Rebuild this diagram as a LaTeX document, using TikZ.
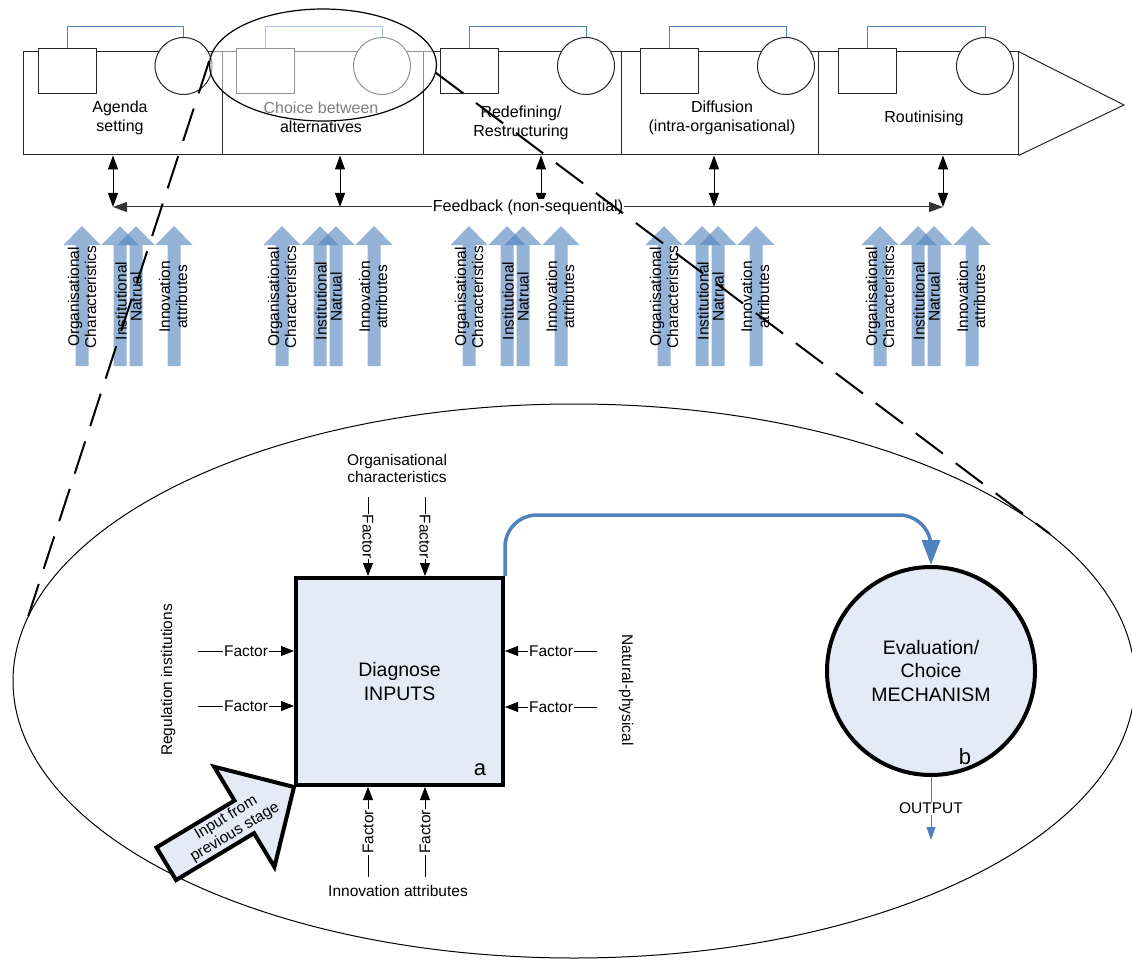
\documentclass[tikz,border=0pt]{standalone}
\usepackage{fontspec}
\setmainfont{Liberation Sans}
\usepackage{xcolor}
\usepackage{tikz}
\usetikzlibrary{arrows.meta,positioning,shapes.geometric}
\definecolor{accblue}{RGB}{79,129,189}
\definecolor{boxfill}{RGB}{228,234,246}

\begin{document}
\begin{tikzpicture}[x=1pt,y=-1pt,
  stg/.style={draw=black!85,line width=1pt,minimum height=103pt,inner sep=0pt},
  sq/.style={draw=black!85,fill=white,line width=1pt,minimum width=58pt,minimum height=45pt,inner sep=0pt},
  cr/.style={draw=black!85,fill=white,line width=1pt,circle,minimum size=57pt,inner sep=0pt},
  lbl/.style={font=\fontsize{16}{19}\selectfont,align=center},
  sm/.style={font=\fontsize{15.5}{17}\selectfont,align=center},
  big/.style={font=\fontsize{19.5}{23.5}\selectfont,align=center},
  dbl/.style={line width=1pt,{Triangle[length=14pt,width=10pt]}-{Triangle[length=14pt,width=10pt]}},
  fac/.style={line width=0.8pt,-{Triangle[length=13pt,width=10pt]}},
  flab/.style={sm,fill=white,inner sep=1pt},
  varr/.style={fill=accblue,fill opacity=0.6},
  dsh/.style={line width=2pt,dash pattern=on 34pt off 16pt}]
\path[use as bounding box,fill=white] (0,0) rectangle (1132,960);
\node[ellipse,draw,line width=1pt,minimum width=1122pt,minimum height=554pt,inner sep=0pt] (bigell) at (574,681) {};
\foreach \n/\l/\r/\s/\c in {1/23/222/67/183.5,2/222/423/265/382,3/423/621/469/586,4/621/818/669/786,5/818/1018/867/985} {
  \node[stg,minimum width={(\r-\l)*1pt}] (st\n) at ({(\l+\r)/2},103.5) {};
  \node[sq] (sq\n) at (\s,71.5) {};
  \node[cr] (ci\n) at (\c,66) {};
  \draw[accblue,line width=1pt] (sq\n.north) -- ++(0,-22) -| (ci\n.north);
}
\coordinate (tip) at (1124,105);
\draw[line width=1pt,draw=black!85] (st5.north east) -- (tip) -- (st5.south east);
\node[lbl] (lab1) at (120,117.5) {Agenda\\setting};
\node[lbl] (lab2) at (321,117.5) {Choice between\\alternatives};
\node[lbl] (lab3) at (521,123) {Redefining/\\Restructuring};
\node[lbl] (lab4) at (722,117.5) {Diffusion\\(intra-organisational)};
\node[lbl] (lab5) at (924,118) {Routinising};
\node[ellipse,draw,line width=1.2pt,fill=white,fill opacity=0.5,minimum width=227pt,minimum height=112pt,inner sep=0pt] (zoomell) at (323,65) {};
\foreach \n/\x in {1/113,2/340,3/541,4/714,5/943} {
  \coordinate (fb\n) at (\x,207);
  \draw[dbl] (st\n.south -| fb\n) -- (fb\n);
}
\draw[dbl,draw=black!80] (fb1) -- node[lbl,fill=white,inner sep=1pt] (fbl) {Feedback (non-sequential)} (fb5);
\foreach \g in {0,200,387,582,798} {
  \foreach \c in {82,120,136,174}
    \fill[varr] ({\g+\c-6.5},366) -- ({\g+\c-6.5},245) -- ({\g+\c-18.5},245) -- ({\g+\c},226)
      -- ({\g+\c+18.5},245) -- ({\g+\c+6.5},245) -- ({\g+\c+6.5},366) -- cycle;
  \node[sm,rotate=90] (oc\g) at ({\g+82},297) {Organisational\\Characteristics};
  \node[sm,rotate=90] (in\g) at ({\g+121},301) {Institutional};
  \node[sm,rotate=90] (na\g) at ({\g+136},297) {Natrual};
  \node[sm,rotate=90] (ia\g) at ({\g+173},297) {Innovation\\attributes};
}
\node[draw,line width=4pt,fill=boxfill,minimum size=207pt,big] (diag) at (399.5,681.5) {Diagnose\\INPUTS};
\node[font=\fontsize{22}{24}\selectfont] (lba) at (480,770) {a};
\node[draw,circle,line width=4pt,fill=boxfill,minimum size=208pt,inner sep=0pt,big] (eval) at (931,671) {Evaluation/\\Choice\\MECHANISM};
\node[font=\fontsize{22}{24}\selectfont] (lbb) at (965,757) {b};
\draw[accblue,line width=3.5pt,rounded corners=32pt,-{Triangle[length=25pt,width=18pt]}] (diag.north east) -- ++(0,-61) -| (eval.north);
\coordinate (outend) at (931,840);
\draw[accblue,line width=1pt,-{Triangle[length=13pt,width=9pt]}] (eval.south) -- node[sm,fill=white,text=black,inner sep=1pt] (outl) {OUTPUT} (outend);
\coordinate (fl1) at (198,651); \coordinate (fl2) at (198,706);
\coordinate (fr1) at (597,651); \coordinate (fr2) at (597,707);
\coordinate (ft1) at (368,497); \coordinate (ft2) at (425,497);
\coordinate (fd1) at (368,877); \coordinate (fd2) at (425,877);
\foreach \k in {1,2} {
  \draw[fac] (fl\k) -- node[flab] {Factor} (fl\k -| diag.west);
  \draw[fac] (fr\k) -- node[flab] {Factor} (fr\k -| diag.east);
  \draw[fac] (ft\k) -- node[flab,rotate=-90] {Factor} (ft\k |- diag.north);
  \draw[fac] (fd\k) -- node[flab,rotate=90] {Factor} (fd\k |- diag.south);
}
\node[sm] (orgc) at (397,468) {Organisational\\characteristics};
\node[sm,rotate=90] (regi) at (168,680) {Regulation institutions};
\node[sm,rotate=-90] (natp) at (626,690) {Natural-physical};
\node[sm] (inna) at (398,891) {Innovation attributes};
\begin{scope}[shift={(diag.south west)},rotate=31]
  \draw[line width=4pt,fill=boxfill,line join=miter] (0,0) -- (-58,58.5) -- (-58,19) -- (-149,19)
    -- (-149,-19) -- (-58,-19) -- (-58,-58.5) -- cycle;
  \node[sm,rotate=31] (inprev) at (-74,0) {Input from\\previous stage};
\end{scope}
\coordinate (dl) at (27,620);
\coordinate (dr) at (1050,534);
\draw[dsh] (zoomell.178) -- (dl);
\draw[dsh] (zoomell.-4) -- (dr);
\end{tikzpicture}
\end{document}
